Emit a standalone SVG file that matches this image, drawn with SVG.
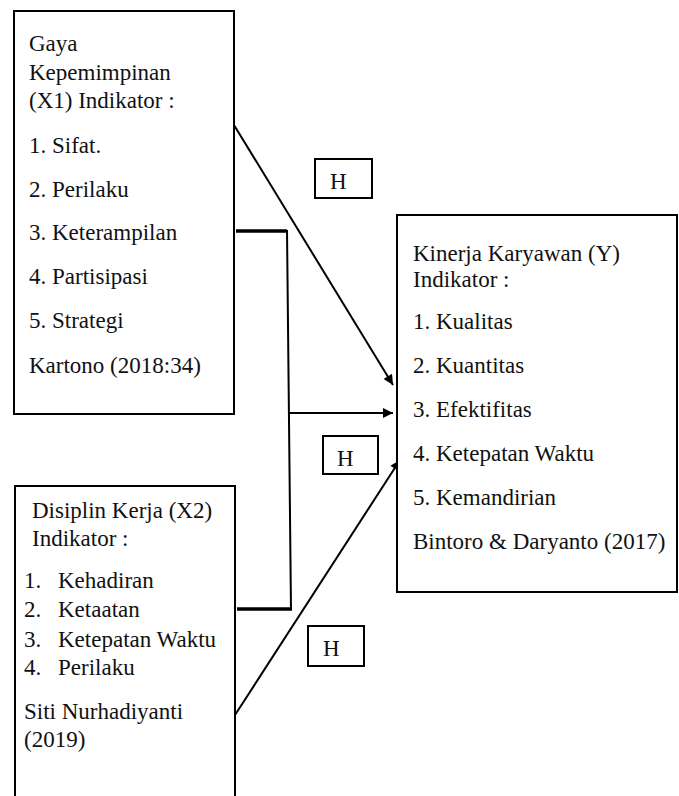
<svg xmlns="http://www.w3.org/2000/svg" width="679" height="796" viewBox="0 0 679 796" font-family="'Liberation Serif', 'Times New Roman', 'DejaVu Serif', serif">
<style>
  .box{fill:#fff;stroke:#000;stroke-width:2}
  .hbox{fill:#fff;stroke:#000;stroke-width:2}
  .t{font-family:'Liberation Serif','Times New Roman','DejaVu Serif',serif;font-size:23px;fill:#111}
  .ln{stroke:#000;stroke-width:2;fill:none}
  .thick{stroke:#000;stroke-width:3.5;fill:none}
</style>
<defs>
  <marker id="ah" viewBox="0 0 10 10" refX="10" refY="5" markerWidth="12" markerHeight="10" markerUnits="userSpaceOnUse" orient="auto">
    <path d="M0,0 L10,5 L0,10 z" fill="#000"/>
  </marker>
</defs>
<rect width="679" height="796" fill="#fff"/>
<g id="connectors">
  <line class="ln" x1="234" y1="125" x2="393" y2="385" marker-end="url(#ah)"/>
  <line class="thick" x1="236" y1="231" x2="287" y2="231"/>
  <line class="ln" x1="287" y1="230" x2="291" y2="610"/>
  <line class="thick" x1="237" y1="609" x2="292" y2="609"/>
  <line class="ln" x1="289" y1="413" x2="393" y2="413" marker-end="url(#ah)"/>
  <line class="ln" x1="235" y1="715" x2="400" y2="460" marker-end="url(#ah)"/>
</g>
<g id="x1" class="t">
  <rect class="box" x="14" y="11" width="220" height="403"/>
  <text x="29" y="51">Gaya</text>
  <text x="29" y="80">Kepemimpinan</text>
  <text x="29" y="108">(X1) Indikator :</text>
  <text x="29" y="153">1. Sifat.</text>
  <text x="29" y="197">2. Perilaku</text>
  <text x="29" y="240">3. Keterampilan</text>
  <text x="29" y="284">4. Partisipasi</text>
  <text x="29" y="328">5. Strategi</text>
  <text x="29" y="373">Kartono (2018:34)</text>
</g>
<g id="x2" class="t">
  <path class="box" d="M15,800 V486 H235 V800"/>
  <text x="32" y="518">Disiplin Kerja (X2)</text>
  <text x="32" y="546">Indikator :</text>
  <text x="24" y="588">1.</text><text x="58" y="588">Kehadiran</text>
  <text x="24" y="617">2.</text><text x="58" y="617">Ketaatan</text>
  <text x="24" y="647">3.</text><text x="58" y="647">Ketepatan Waktu</text>
  <text x="24" y="675">4.</text><text x="58" y="675">Perilaku</text>
  <text x="24" y="719">Siti Nurhadiyanti</text>
  <text x="24" y="747">(2019)</text>
</g>
<g id="y" class="t">
  <rect class="box" x="397" y="215" width="280" height="377"/>
  <text x="413" y="261">Kinerja Karyawan (Y)</text>
  <text x="413" y="287">Indikator :</text>
  <text x="413" y="329">1. Kualitas</text>
  <text x="413" y="373">2. Kuantitas</text>
  <text x="413" y="417">3. Efektifitas</text>
  <text x="413" y="461">4. Ketepatan Waktu</text>
  <text x="413" y="505">5. Kemandirian</text>
  <text x="413" y="549">Bintoro &amp; Daryanto (2017)</text>
</g>
<g id="h1" class="t">
  <rect class="hbox" x="315" y="159" width="57" height="39"/>
  <text x="330" y="189">H</text>
</g>
<g id="h2" class="t">
  <rect class="hbox" x="323" y="436" width="55" height="38"/>
  <text x="337" y="466">H</text>
</g>
<g id="h3" class="t">
  <rect class="hbox" x="308" y="626" width="56" height="40"/>
  <text x="323" y="656">H</text>
</g>
</svg>
